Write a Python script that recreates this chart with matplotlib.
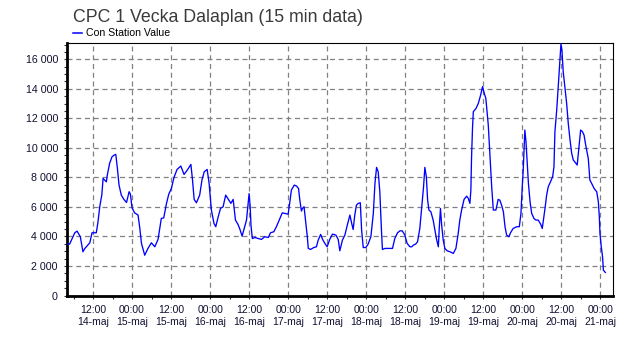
import matplotlib
matplotlib.use("Agg")
import matplotlib.pyplot as plt
from matplotlib.ticker import MultipleLocator, FuncFormatter

# Station readings: hours since 14-maj 00:00 and concentration values
hours = [
    4.0, 4.8, 6.4, 7.1, 8.1, 8.9, 9.4, 11.0, 11.7, 13.0, 13.5, 14.1, 14.7, 15.1,
    16.1, 16.4, 17.1, 17.85, 18.5, 19.0, 19.5, 20.0, 20.7, 21.5, 22.3, 23.1, 23.5,
    24.0, 24.8, 25.85, 26.4, 26.9, 27.9, 28.9, 29.95, 31.0, 32.0, 32.4, 32.8,
    33.0, 33.75, 34.6, 35.3, 36.1, 36.9, 37.85, 39.0, 40.0, 41.0, 42.1, 42.6,
    43.1, 43.8, 44.8, 45.5, 46.2, 47.1, 47.7, 48.4, 49.2, 49.75, 50.5, 51.2,
    52.0, 52.8, 53.75, 54.4, 55.1, 55.8, 56.6, 57.2, 57.85, 58.5, 59.2, 60.0,
    60.3, 60.6, 61.0, 61.8, 62.8, 63.8, 64.8, 65.9, 66.6, 67.6, 68.4, 69.25,
    70.2, 71.0, 72.0, 72.5, 73.0, 73.9, 74.6, 75.2, 75.6, 76.1, 76.4, 76.9,
    77.45, 77.9, 78.2, 78.9, 79.9, 80.7, 81.25, 82.0, 82.6, 83.3, 84.0, 84.8,
    85.65, 86.7, 87.4, 87.9, 88.7, 89.45, 90.2, 91.0, 91.5, 92.0, 92.5, 93.0,
    93.55, 94.2, 94.6, 95.1, 95.9, 96.6, 97.45, 98.2, 98.7, 99.2, 99.7, 100.2,
    100.7, 101.0, 101.8, 104.1, 104.8, 105.65, 106.4, 107.1, 107.9, 108.6,
    109.45, 110.0, 110.5, 111.2, 111.8, 112.5, 113.0, 113.65, 114.05, 114.5,
    114.9, 115.3, 115.9, 116.6, 117.1, 117.65, 118.2, 118.5, 118.85, 119.2,
    119.7, 120.2, 120.9, 121.8, 122.8, 123.6, 124.3, 124.8, 125.35, 126.1,
    126.9, 127.4, 127.9, 128.2, 128.4, 128.7, 128.95, 129.8, 130.5, 131.2,
    131.8, 132.3, 132.8, 133.55, 134.1, 134.6, 135.1, 135.9, 136.6, 137.1,
    137.65, 138.2, 138.7, 139.2, 139.9, 140.4, 141.2, 142.3, 143.1, 143.6,
    144.0, 144.3, 144.8, 145.15, 145.55, 145.9, 146.4, 146.9, 147.6, 148.2,
    148.9, 149.65, 150.15, 150.5, 151.0, 151.5, 152.0, 152.7, 153.35, 153.75,
    154.05, 154.6, 155.1, 155.6, 155.9, 156.2, 156.6, 157.1, 157.65, 158.15,
    158.7, 159.2, 159.7, 160.5, 160.9, 161.45, 161.95, 162.5, 163.0, 163.6,
    164.3, 164.8, 165.35, 166.1, 166.9, 167.4, 167.7, 167.9, 168.3, 168.7,
    168.95, 169.55,
]
values = [
    3480, 3480, 4250, 4360, 3980, 2960, 3160, 3570, 4250, 4250, 4930, 6060, 6800, 7930,
    7700, 8160, 8950, 9400, 9510, 9560, 8610, 7480, 6800, 6510, 6300, 7030, 6870,
    5940, 5600, 5450, 4540, 3530, 2730, 3190, 3570, 3300, 3800, 4380, 5000,
    5220, 5260, 6240, 6870, 7250, 8000, 8540, 8770, 8200, 8500, 8880, 7820,
    6510, 6280, 6800, 7820, 8380, 8540, 7600, 5790, 4880, 4660, 5330, 5900,
    6010, 6800, 6460, 6240, 6510, 5110, 4810, 4470, 4020, 4540, 5110, 6900,
    6100, 4700, 3860, 3930, 3860, 3800, 3980, 3930, 4250, 4320, 4660, 5110,
    5600, 5560, 5510, 6280, 7140, 7480, 7410, 7250, 6460, 5720, 5900, 6010,
    4930, 3980, 3190, 3120, 3250, 3300, 3750, 4140, 3800, 3530, 3300, 3800,
    4160, 4090, 3800, 3030, 3750, 4090, 4770, 5450, 4930, 4470, 5450, 6120,
    6240, 6280, 4430, 3250, 3250, 3480, 3980, 5560, 7590, 8680, 8380, 7030,
    4430, 3120, 3190, 3190, 3860, 4250, 4380, 4380, 4090, 3530,
    3300, 3300, 3410, 3480, 3640, 4540, 5790, 7370, 8680, 8050,
    6460, 5790, 5670, 5110, 4470, 3800, 3300, 4660, 5900, 4800,
    3750, 3190, 3030, 2960, 2850, 3190, 4200, 5110, 5790, 6510,
    6730, 6580, 6240, 7140, 9290, 11320, 12450, 12680, 13020, 13580,
    14150, 13700, 13360, 11550, 9400, 7370, 5790, 5790, 6510, 6460,
    6120, 5670, 4660, 4090, 3980, 4250, 4540, 4660, 4660, 5560,
    7370, 8500, 11210, 10420, 8950, 7590, 6350, 5560, 5220, 5110,
    5110, 4840, 4540, 5110, 5900, 6800, 7370, 7710, 8050, 8720,
    11100, 12570, 14260, 16070, 17050, 16630, 15160, 14150, 13020, 11660,
    10530, 9630, 9180, 8950, 8840, 10080, 11210, 11100, 10870, 10080,
    9290, 7820, 7590, 7250, 7030, 6350, 5330, 4200, 3300, 2620,
    1720, 1560,
]

# Axis range and tick labels (12-hour steps, 14-maj 12:00 .. 21-maj 00:00)
x_start, x_end = 4.0, 172.0
y_max = 17125
tick_hours = list(range(12, 169, 12))
tick_labels = [
    "12:00\n14-maj", "00:00\n15-maj", "12:00\n15-maj", "00:00\n16-maj",
    "12:00\n16-maj", "00:00\n17-maj", "12:00\n17-maj", "00:00\n18-maj",
    "12:00\n18-maj", "00:00\n19-maj", "12:00\n19-maj", "00:00\n20-maj",
    "12:00\n20-maj", "00:00\n21-maj",
]
title = "CPC 1 Vecka Dalaplan (15 min data)"
series_name = "Con Station Value"

plt.rcParams["font.family"] = ["Liberation Sans", "DejaVu Sans"]

fig = plt.figure(figsize=(6.33, 3.38), dpi=100)
ax = fig.add_axes([67 / 633, 1 - 295.5 / 338, (613.3 - 67) / 633, (295.5 - 42.7) / 338])

ax.plot(hours, values, color="#0000ff", lw=0.95, zorder=3)

ax.set_xlim(x_start, x_end)
ax.set_ylim(0, y_max)

ax.set_xticks(tick_hours)
ax.set_xticklabels(tick_labels, fontsize=7.5, linespacing=1.35, color="#101030")
ax.xaxis.set_minor_locator(MultipleLocator(6))
ax.yaxis.set_major_locator(MultipleLocator(2000))
ax.yaxis.set_minor_locator(MultipleLocator(500))
ax.yaxis.set_major_formatter(
    FuncFormatter(lambda v, _: f"{int(v):,}".replace(",", " "))
)
for lab in ax.get_yticklabels():
    lab.set_fontsize(7.7)
    lab.set_color("#101030")

ax.tick_params(axis="both", which="both", direction="out", length=2.5,
               width=0.8, color="#333333")
ax.tick_params(axis="x", which="major", pad=4)
ax.tick_params(axis="y", which="major", pad=4)

ax.grid(True, which="major", color="#808080", lw=0.9, linestyle=(0, (4, 3)), zorder=1)
ax.set_axisbelow(True)

for side in ("left", "bottom"):
    ax.spines[side].set_linewidth(2.0)
    ax.spines[side].set_color("black")
for side in ("top", "right"):
    ax.spines[side].set_linewidth(0.8)
    ax.spines[side].set_color("black")

# Title and single-entry legend above the plot area
fig.text(73 / 633, 1 - 17 / 338, title, fontsize=12.8, color="#3a3a3a",
         ha="left", va="center")
fig.lines.append(plt.Line2D([73.3 / 633, 81.7 / 633], [1 - 33.3 / 338, 1 - 33.3 / 338],
                            transform=fig.transFigure, color="#0000ff", lw=1.1))
fig.text(86 / 633, 1 - 33.5 / 338, series_name, fontsize=7.6, color="black",
         ha="left", va="center")

fig.savefig("out.png", dpi=100)
